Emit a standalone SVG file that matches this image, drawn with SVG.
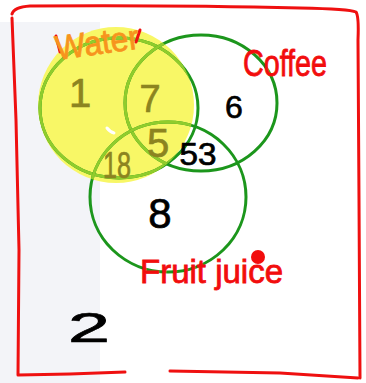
<svg xmlns="http://www.w3.org/2000/svg" width="366" height="383" viewBox="0 0 366 383">
  <style>
    .ring { fill: none; stroke: #1c961c; stroke-width: 3; }
    .ring-lt { fill: none; stroke: #90cc2c; stroke-width: 3; }
    .num { font-family: "Liberation Sans", Arial, sans-serif; text-anchor: middle; stroke-width: 0.7; }
    .dark { fill: #000; stroke: #000; }
    .olive { fill: #8c8420; stroke: #8c8420; }
    .lbl { font-family: "Liberation Sans", Arial, sans-serif; fill: #f20d0d; stroke: #f20d0d; stroke-width: 0.8; }
    .box { fill: none; stroke: #ef1010; stroke-width: 3; stroke-linecap: round; stroke-linejoin: round; }
    .red { fill: none; stroke: #ef1010; stroke-width: 3; stroke-linecap: round; }
  </style>
  <defs>
    <clipPath id="yclip">
      <circle cx="116" cy="105" r="78"/>
    </clipPath>
  </defs>
  <rect x="0" y="0" width="366" height="383" fill="#ffffff"/>
  <rect x="0" y="22" width="100" height="361" fill="#f3f4f8"/>

  <g id="highlight">
    <circle cx="116" cy="105" r="78" fill="#f8f766"/>
    <path d="M107 128 Q110 132 114 133" stroke="#ffffff" stroke-width="3" fill="none" stroke-linecap="round"/>
  </g>

  <g id="frame">
    <path class="box" d="M12 14 Q14 7 30 6 Q180 5 300 8 Q350 9 356 12 Q359 16 358 40 L359 200 L360 378"/>
    <path class="box" d="M12 18 L16 120 L19 250 L18 375 L70 374 L125 372"/>
    <path class="box" d="M170 371 L280 373 L358 378"/>
  </g>

  <g id="sets">
    <g id="water">
      <ellipse class="ring" cx="119" cy="108" rx="79" ry="70"/>
      <ellipse class="ring-lt" cx="119" cy="108" rx="79" ry="70" clip-path="url(#yclip)"/>
      <path class="red" d="M56 36 L60 52"/>
      <path class="red" d="M140 30 L136 42"/>
      <text class="lbl" x="57" y="60" font-size="34" textLength="84" lengthAdjust="spacingAndGlyphs" style="fill:#f7941d;stroke:#f7941d" transform="rotate(-8 57 60)">Water</text>
    </g>
    <g id="coffee">
      <ellipse class="ring" cx="201" cy="103" rx="76" ry="68"/>
      <ellipse class="ring-lt" cx="201" cy="103" rx="76" ry="68" clip-path="url(#yclip)"/>
      <text class="lbl" x="243" y="76" font-size="36" textLength="84" lengthAdjust="spacingAndGlyphs">Coffee</text>
    </g>
    <g id="fruit">
      <ellipse class="ring" cx="168" cy="197" rx="78" ry="75"/>
      <ellipse class="ring-lt" cx="168" cy="197" rx="78" ry="75" clip-path="url(#yclip)"/>
      <text class="lbl" x="140" y="283" font-size="33" textLength="143" lengthAdjust="spacingAndGlyphs">Fruit juice</text>
      <circle cx="258" cy="257" r="7" fill="#f20d0d"/>
    </g>
  </g>

  <g id="counts">
    <text class="num olive" x="80" y="107" font-size="40">1</text>
    <text class="num olive" x="150" y="112" font-size="38">7</text>
    <text class="num dark" x="234" y="118" font-size="32">6</text>
    <text class="num olive" x="158" y="157" font-size="40">5</text>
    <text class="num olive" x="117" y="178" font-size="36" textLength="28" lengthAdjust="spacingAndGlyphs">18</text>
    <text class="num dark" x="198" y="165" font-size="31" textLength="37" lengthAdjust="spacingAndGlyphs">53</text>
    <text class="num dark" x="160" y="228" font-size="42">8</text>
    <text class="num dark" x="89" y="342" font-size="42" textLength="42" lengthAdjust="spacingAndGlyphs">2</text>
  </g>
</svg>
